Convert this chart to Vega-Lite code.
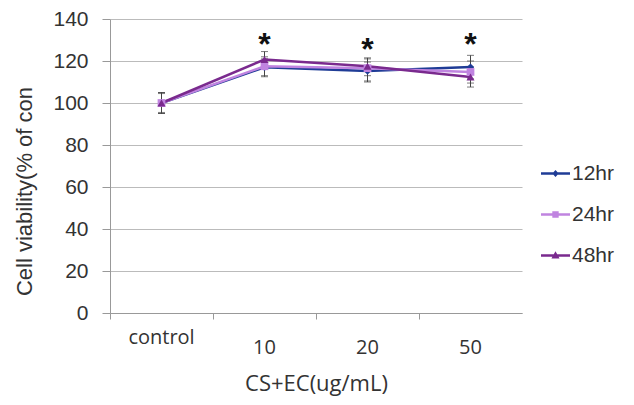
{
  "$schema": "https://vega.github.io/schema/vega-lite/v6.json",
  "width": 412,
  "height": 294,
  "autosize": "none",
  "padding": {"left": 110, "top": 19, "right": 112, "bottom": 92},
  "background": "white",
  "config": {
    "view": {"stroke": null},
    "font": "Liberation Sans",
    "axis": {"labelColor": "#333333", "titleColor": "#333333", "labelFont": "Liberation Sans", "titleFont": "Liberation Sans", "titleFontWeight": "normal"}
  },
  "datasets": {
    "series": [
      {"dose": "control", "group": "12hr", "value": 100, "lo": 95, "hi": 105},
      {"dose": "10", "group": "12hr", "value": 117, "lo": 113, "hi": 121},
      {"dose": "20", "group": "12hr", "value": 115.2, "lo": 110.5, "hi": 119.5},
      {"dose": "50", "group": "12hr", "value": 117.1, "lo": 111.5, "hi": 122.7},
      {"dose": "control", "group": "24hr", "value": 100, "lo": 95, "hi": 105},
      {"dose": "10", "group": "24hr", "value": 117.5, "lo": 112.5, "hi": 122},
      {"dose": "20", "group": "24hr", "value": 116.6, "lo": 110, "hi": 121},
      {"dose": "50", "group": "24hr", "value": 114.8, "lo": 109.5, "hi": 120},
      {"dose": "control", "group": "48hr", "value": 100, "lo": 95.5, "hi": 104.5},
      {"dose": "10", "group": "48hr", "value": 120.7, "lo": 116.5, "hi": 124.5},
      {"dose": "20", "group": "48hr", "value": 117.5, "lo": 113, "hi": 121.5},
      {"dose": "50", "group": "48hr", "value": 112.4, "lo": 107.6, "hi": 117}
    ],
    "stars": [
      {"dose": "10", "y": 131.5, "label": "*"},
      {"dose": "20", "y": 129, "label": "*"},
      {"dose": "50", "y": 131.5, "label": "*"}
    ]
  },
  "layer": [
    {
      "data": {"name": "series"},
      "mark": {"type": "rule", "color": "#444444", "strokeWidth": 1},
      "encoding": {
        "x": {"field": "dose", "type": "nominal", "sort": ["control", "10", "20", "50"],
          "scale": {"paddingInner": 0, "paddingOuter": 0},
          "axis": {"title": "CS+EC(ug/mL)", "labelAngle": 0, "bandPosition": 0, "labelFontSize": 20, "titleFontSize": 22, "labelPadding": 18, "titlePadding": 16, "domainColor": "#999999", "tickColor": "#999999", "tickSize": 6, "labelFont": "Open Sans", "titleFont": "Open Sans", "grid": false,
            "labelBaseline": {"condition": {"test": "datum.value === 'control'", "value": "middle"}, "value": "top"}}},
        "y": {"field": "lo", "type": "quantitative", "scale": {"domain": [0, 140]},
          "axis": {"title": "Cell viability(% of con", "values": [0, 20, 40, 60, 80, 100, 120, 140], "labelFontSize": 21, "titleFontSize": 22, "gridColor": "#BBBBBB", "domainColor": "#999999", "tickColor": "#999999", "tickSize": 8, "labelPadding": 14, "titleX": -86, "titleY": 172, "titleBaseline": "middle"}},
        "y2": {"field": "hi"}
      }
    },
    {
      "data": {"name": "series"},
      "mark": {"type": "tick", "color": "#444444", "size": 7, "thickness": 1, "orient": "horizontal"},
      "encoding": {
        "x": {"field": "dose", "type": "nominal", "sort": ["control", "10", "20", "50"], "bandPosition": 0.5},
        "y": {"field": "lo", "type": "quantitative"}
      }
    },
    {
      "data": {"name": "series"},
      "mark": {"type": "tick", "color": "#444444", "size": 7, "thickness": 1, "orient": "horizontal"},
      "encoding": {
        "x": {"field": "dose", "type": "nominal", "sort": ["control", "10", "20", "50"], "bandPosition": 0.5},
        "y": {"field": "hi", "type": "quantitative"}
      }
    },
    {
      "data": {"name": "series"},
      "mark": {"type": "line", "strokeWidth": 2.5},
      "encoding": {
        "x": {"field": "dose", "type": "nominal", "sort": ["control", "10", "20", "50"], "bandPosition": 0.5},
        "y": {"field": "value", "type": "quantitative"},
        "color": {"field": "group", "type": "nominal", "title": null, "scale": {"domain": ["12hr", "24hr", "48hr"], "range": ["#1F3C96", "#C084E0", "#7A2A8E"]},
          "legend": {"orient": "none", "legendX": 431, "legendY": 140, "labelFontSize": 21, "labelColor": "#333333", "symbolSize": 841, "rowPadding": 16, "labelOffset": 2, "title": null, "symbolStrokeWidth": 0,
            "encode": {"symbols": {"update": {"shape": {"signal": "datum.value === '12hr' ? 'M-1,-0.08H1V0.08H-1Z M0,-0.24L0.22,0L0,0.24L-0.22,0Z' : datum.value === '24hr' ? 'M-1,-0.08H1V0.08H-1Z M-0.22,-0.22H0.22V0.22H-0.22Z' : 'M-1,-0.08H1V0.08H-1Z M0,-0.3L0.28,0.2H-0.28Z'"}, "fill": {"scale": "color", "field": "value"}, "strokeWidth": {"value": 0}}}}}},
        "order": {"field": "group"}
      }
    },
    {
      "data": {"name": "series"},
      "transform": [{"filter": "datum.group === '12hr'"}],
      "mark": {"type": "point", "filled": true, "opacity": 1, "shape": "diamond", "size": 55},
      "encoding": {
        "x": {"field": "dose", "type": "nominal", "sort": ["control", "10", "20", "50"], "bandPosition": 0.5},
        "y": {"field": "value", "type": "quantitative"},
        "color": {"field": "group", "type": "nominal"}
      }
    },
    {
      "data": {"name": "series"},
      "transform": [{"filter": "datum.group === '24hr'"}],
      "mark": {"type": "point", "filled": true, "opacity": 1, "shape": "square", "size": 60},
      "encoding": {
        "x": {"field": "dose", "type": "nominal", "sort": ["control", "10", "20", "50"], "bandPosition": 0.5},
        "y": {"field": "value", "type": "quantitative"},
        "color": {"field": "group", "type": "nominal"}
      }
    },
    {
      "data": {"name": "series"},
      "transform": [{"filter": "datum.group === '48hr'"}],
      "mark": {"type": "point", "filled": true, "opacity": 1, "shape": "triangle-up", "size": 65},
      "encoding": {
        "x": {"field": "dose", "type": "nominal", "sort": ["control", "10", "20", "50"], "bandPosition": 0.5},
        "y": {"field": "value", "type": "quantitative"},
        "color": {"field": "group", "type": "nominal"}
      }
    },
    {
      "data": {"name": "stars"},
      "mark": {"type": "text", "fontSize": 32, "fontWeight": "bold", "color": "#111111", "baseline": "middle", "dy": 8},
      "encoding": {
        "x": {"field": "dose", "type": "nominal", "sort": ["control", "10", "20", "50"], "bandPosition": 0.5},
        "y": {"field": "y", "type": "quantitative"},
        "text": {"field": "label"}
      }
    }
  ]
}
